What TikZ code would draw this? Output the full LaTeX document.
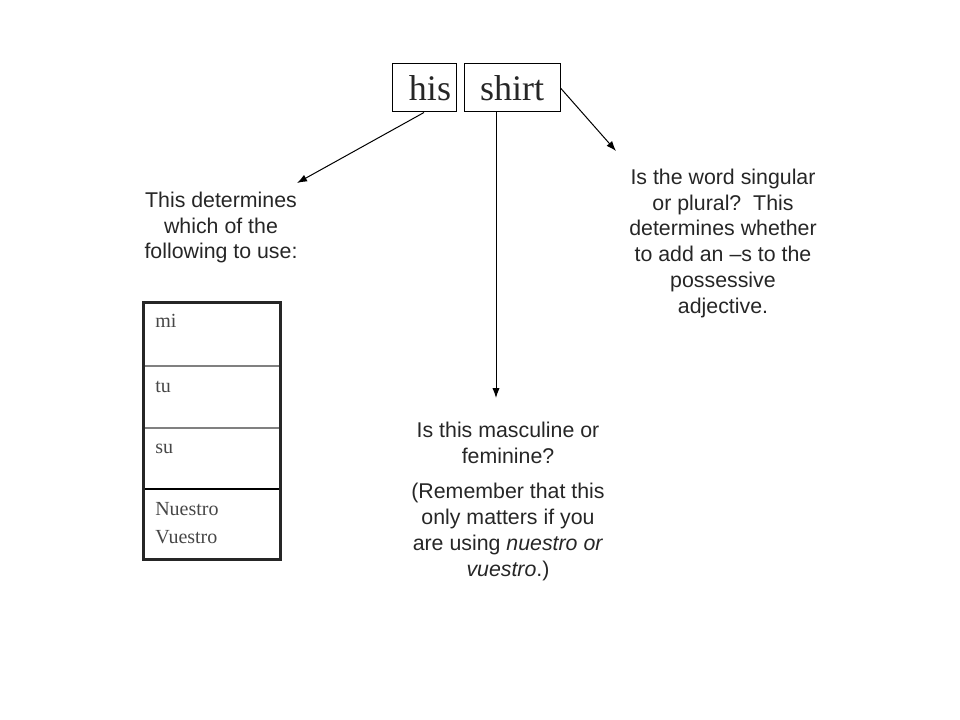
\documentclass[tikz,border=0pt]{standalone}
\usepackage{fontspec}
\setmainfont{Liberation Serif}
\setsansfont{Liberation Sans}
\usetikzlibrary{arrows.meta}
\definecolor{ink}{HTML}{262626}
\tikzset{
  word/.style={draw, line width=0.75pt, minimum height=36pt, inner sep=0pt, font=\fontsize{27}{30}\selectfont, text=ink},
  note/.style={font=\sffamily\fontsize{16}{19.3}\selectfont, text=ink, align=center, anchor=base, inner sep=0pt},
  cell/.style={font=\fontsize{15}{21}\selectfont, text=ink!85, align=left, anchor=base west, inner sep=0pt},
  link/.style={line width=0.75pt, -{Latex[length=7.5pt,width=5.5pt]}}
}
\begin{document}
\begin{tikzpicture}[x=0.75pt,y=-0.75pt]
    \useasboundingbox (0,0) rectangle (960,720);

    \node[word, minimum width=48pt](his) at (424,88){\hspace*{9pt}his};
    \node[word, minimum width=72pt](shirt) at (512,88){shirt};

    \coordinate(t1) at (297,183);
    \coordinate(t2) at (496,398);
    \coordinate(t3) at (616,151);

    \draw[link] (his.south) -- (t1);
    \draw[link] (shirt.south -| t2) -- (t2);
    \draw[link] (shirt.east) -- (t3);

    \node[note](use) at (221,259){This determines\\which of the\\following to use:};
    \node[note](number) at (723,313){Is the word singular\\or plural?\ \ This\\determines whether\\to add an --s to the\\possessive\\adjective.};
    \node[note](gender) at (508,463){Is this masculine or\\feminine?};
    \node[note](remember) at (508,576){(Remember that this\\only matters if you\\are using \textit{nuestro or}\\\textit{vuestro}.)};

    \draw[gray, line width=1.2pt] (143,366) -- (280,366);
    \draw[gray, line width=1.2pt] (143,428) -- (280,428);
    \draw[black, line width=1pt] (143,489) -- (280,489);
    \draw[ink, line width=2.25pt] (143,303) rectangle (280,559);

    \node[cell](mi) at (155,327){mi};
    \node[cell](tu) at (155,392){tu};
    \node[cell](su) at (155,453){su};
    \node[cell](nv) at (155,543){Nuestro\\Vuestro};

  \end{tikzpicture}
\end{document}
